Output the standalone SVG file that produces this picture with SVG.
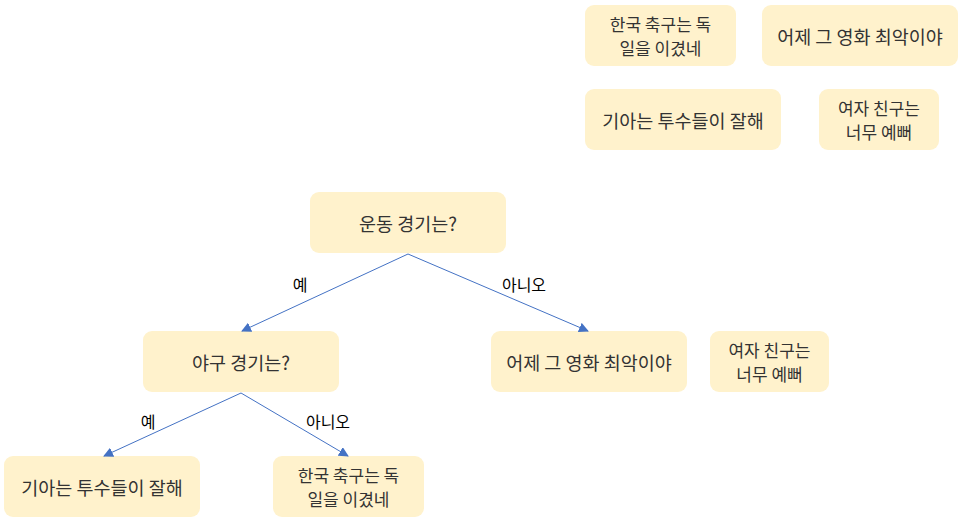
<svg xmlns="http://www.w3.org/2000/svg" width="965" height="529" viewBox="0 0 965 529">
<defs>
<marker id="arr" viewBox="0 0 10 10" refX="9" refY="5" markerWidth="10" markerHeight="10" markerUnits="userSpaceOnUse" orient="auto">
<path d="M0,0 L10,5 L0,10 Z" fill="#4472c4"/>
</marker>
<style>
.box{fill:#fff2cc;stroke:none}
.t{font-family:"Noto Sans CJK KR","Noto Sans",sans-serif;font-size:18.5px;fill:#333;text-anchor:middle;dominant-baseline:central}
.t2{font-family:"Noto Sans CJK KR","Noto Sans",sans-serif;font-size:17px;fill:#333;text-anchor:middle;dominant-baseline:central}
.lbl{font-family:"Noto Sans CJK KR","Noto Sans",sans-serif;font-size:16px;fill:#000;text-anchor:middle;dominant-baseline:central}
.e{stroke:#4472c4;stroke-width:1;fill:none;marker-end:url(#arr)}
</style>
</defs>
<rect width="965" height="529" fill="#fff"/>
<g id="legend1"><rect class="box" x="585" y="5" width="151" height="61" rx="9"/><text class="t2" x="660.5" y="23.2">한국 축구는 독</text><text class="t2" x="660.5" y="47.9">일을 이겼네</text></g>
<g id="legend2"><rect class="box" x="762" y="5" width="196" height="61" rx="9"/><text class="t" x="860" y="35.5">어제 그 영화 최악이야</text></g>
<g id="legend3"><rect class="box" x="585" y="89" width="196" height="61" rx="9"/><text class="t" x="683" y="119.5">기아는 투수들이 잘해</text></g>
<g id="legend4"><rect class="box" x="819" y="89" width="120" height="61" rx="9"/><text class="t2" x="879" y="107.2">여자 친구는</text><text class="t2" x="879" y="131.9">너무 예뻐</text></g>
<g id="root"><rect class="box" x="310" y="192" width="196" height="61" rx="9"/><text class="t" x="408" y="222.5">운동 경기는?</text></g>
<g id="baseball"><rect class="box" x="143" y="331" width="196" height="61" rx="9"/><text class="t" x="241" y="361.5">야구 경기는?</text></g>
<g id="movie"><rect class="box" x="491" y="331" width="196" height="61" rx="9"/><text class="t" x="589" y="361.5">어제 그 영화 최악이야</text></g>
<g id="girlfriend"><rect class="box" x="710" y="331" width="119" height="61" rx="9"/><text class="t2" x="769.5" y="349.2">여자 친구는</text><text class="t2" x="769.5" y="373.9">너무 예뻐</text></g>
<g id="kia"><rect class="box" x="4" y="456" width="196" height="61" rx="9"/><text class="t" x="102" y="486.5">기아는 투수들이 잘해</text></g>
<g id="soccer"><rect class="box" x="273" y="456" width="151" height="61" rx="9"/><text class="t2" x="348.5" y="474.2">한국 축구는 독</text><text class="t2" x="348.5" y="498.9">일을 이겼네</text></g>
<g id="connectors">
<line class="e" x1="408" y1="254" x2="242" y2="331"/>
<line class="e" x1="408" y1="254" x2="588" y2="331"/>
<line class="e" x1="241" y1="393" x2="104" y2="456"/>
<line class="e" x1="241" y1="393" x2="348" y2="456"/>
<text class="lbl" x="300" y="284">예</text>
<text class="lbl" x="524" y="284">아니오</text>
<text class="lbl" x="148" y="421">예</text>
<text class="lbl" x="328" y="421">아니오</text>
</g>
</svg>
